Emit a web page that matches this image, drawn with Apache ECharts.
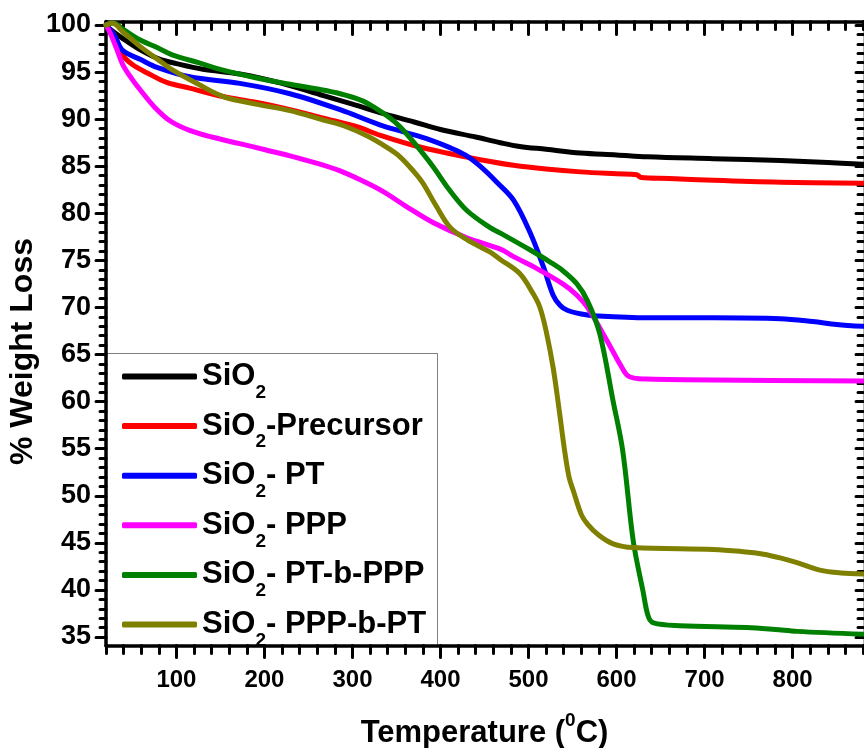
<!DOCTYPE html>
<html><head><meta charset="utf-8">
<script src="https://cdn.jsdelivr.net/npm/echarts@6/dist/echarts.min.js"></script>
<style>html,body{margin:0;padding:0;background:#fff}#c{width:864px;height:748px}</style>
</head><body><div id="c"></div>
<script>
// ---------------- data ----------------
const seriesNames = ['SiO2', 'SiO2-Precursor', 'SiO2- PT', 'SiO2- PPP', 'SiO2- PT-b-PPP', 'SiO2- PPP-b-PT'];
const seriesColors = ['#000000', '#ff0000', '#0000ff', '#ff00ff', '#008000', '#808000'];
const xTickValues = [100, 200, 300, 400, 500, 600, 700, 800];
const yTickValues = [35, 40, 45, 50, 55, 60, 65, 70, 75, 80, 85, 90, 95, 100];

// [temperature (°C), weight (%)]
const sio2 = [[20,100],[24,99.6],[40,98.5],[60,97.3],[80,96.4],[100,95.9],[130,95.3],[172,94.8],[220,93.8],[267,92.5],[300,91.6],[331,90.7],[370,89.7],[400,88.9],[440,88.1],[468,87.5],[490,87.1],[520,86.8],[559,86.4],[600,86.2],[635,86.0],[710,85.8],[786,85.6],[840,85.4],[880,85.2]];
const sio2Precursor = [[20,100],[30,98.8],[39,96.8],[50,95.8],[67,94.9],[89,93.9],[115,93.3],[153,92.4],[190,91.8],[229,91.0],[267,90.1],[305,89.2],[331,88.3],[370,87.2],[407,86.4],[445,85.7],[483,85.1],[520,84.7],[559,84.4],[600,84.2],[623,84.1],[628,83.8],[660,83.7],[710,83.5],[786,83.3],[880,83.2]];
const sio2PT = [[20,100],[30,98.8],[39,97.3],[60,96.3],[78,95.5],[115,94.5],[172,93.8],[229,92.7],[286,91.0],[331,89.4],[360,88.6],[388,87.8],[410,87.0],[428,86.2],[445,85.0],[464,83.3],[483,81.4],[502,77.9],[517,74.3],[528,71.3],[536,70.2],[544,69.7],[560,69.3],[578,69.1],[635,68.9],[710,68.9],[786,68.8],[823,68.5],[850,68.2],[880,68.0]];
const sio2PPP = [[20,100],[25,99.1],[32,97.5],[39,95.8],[50,94.2],[59,93.1],[75,91.3],[93,89.8],[115,88.8],[140,88.1],[172,87.4],[203,86.7],[229,86.1],[260,85.3],[286,84.5],[310,83.5],[335,82.3],[360,80.8],[392,79.0],[430,77.4],[468,76.2],[483,75.4],[510,74.1],[539,72.5],[555,71.3],[567,70.0],[589,66.5],[605,63.8],[612,62.8],[620,62.5],[635,62.4],[710,62.3],[880,62.2]];
const sio2PTbPPP = [[20,100],[28,100.2],[40,99.5],[59,98.4],[78,97.6],[96,96.8],[125,96.0],[153,95.2],[190,94.4],[229,93.7],[260,93.2],[286,92.7],[310,92.0],[324,91.3],[343,90.1],[354,89.2],[370,87.5],[392,84.9],[410,82.5],[430,80.3],[456,78.5],[468,77.9],[502,76.1],[525,74.8],[539,73.9],[555,72.5],[567,70.7],[581,67.2],[596,60.1],[607,54.8],[619,45.2],[630,39.9],[636,37.2],[642,36.5],[672,36.2],[748,36.0],[780,35.8],[805,35.6],[880,35.3]];
const sio2PPPbPT = [[20,100],[27,100.2],[40,99.2],[59,97.7],[78,96.4],[96,95.2],[125,93.7],[153,92.4],[190,91.6],[229,90.9],[267,89.9],[290,89.3],[317,88.2],[339,87.0],[354,86.0],[370,84.4],[380,83.2],[395,80.8],[411,78.5],[430,77.2],[456,75.9],[468,75.1],[490,73.6],[505,71.5],[513,70.0],[520,67.5],[528,63.6],[535,59.0],[541,54.8],[546,52.0],[551,50.5],[560,48.0],[567,47.0],[580,45.8],[596,44.9],[619,44.5],[710,44.3],[740,44.1],[767,43.8],[790,43.3],[805,42.9],[831,42.1],[855,41.8],[880,41.7]];
const seriesData = [sio2, sio2Precursor, sio2PT, sio2PPP, sio2PTbPPP, sio2PPPbPT];

// ---------------- chart ----------------
const FONT = '"Liberation Sans", Arial, sans-serif';
const X_MIN = 20, X_MAX = 880, Y_MIN = 34.1, Y_MAX = 100.37;
const xMinor = [];
for (let v = 20; v <= 880; v += 20) if (v % 100 !== 0) xMinor.push(v);
const yMinor = [];
for (let v = 35; v <= 100; v += 1) if (v % 5 !== 0) yMinor.push(v);

const tickStyle = { color: '#000', width: 3, cap: 'round' };
function xAx(pos, ticks, len, inside, withLabel, lineShow) {
  return {
    type: 'value', position: pos, min: X_MIN, max: X_MAX,
    splitLine: { show: false },
    axisLine: { show: lineShow, onZero: false, lineStyle: { color: '#000', width: 3.5 } },
    axisTick: { show: true, inside: inside, length: len, customValues: ticks, lineStyle: tickStyle },
    axisLabel: withLabel ? { show: true, customValues: xTickValues, margin: 23, color: '#000',
      fontSize: 24, fontWeight: 'bold', fontFamily: FONT } : { show: false }
  };
}
function yAx(pos, ticks, len, inside, withLabel, lineShow, lineStyle) {
  return {
    type: 'value', position: pos, min: Y_MIN, max: Y_MAX,
    splitLine: { show: false },
    axisLine: { show: lineShow, onZero: false, lineStyle: lineStyle || { color: '#000', width: 3.5 } },
    axisTick: { show: true, inside: inside, length: len, customValues: ticks, lineStyle: tickStyle },
    axisLabel: withLabel ? { show: true, customValues: yTickValues, margin: 15, color: '#000',
      fontSize: 27, fontWeight: 'bold', fontFamily: FONT } : { show: false }
  };
}

const xAxes = [
  xAx('bottom', xTickValues, 12, false, true, true),
  xAx('bottom', xMinor, 8, false, false, false),
  xAx('top', xTickValues, 13, true, false, true),
  xAx('top', xMinor, 8, true, false, false)
];
Object.assign(xAxes[0], {
  name: '{a|Temperature (}{s|0}{a|C)}', nameLocation: 'middle', nameGap: 72,
  nameTextStyle: { rich: {
    a: { fontSize: 31, lineHeight: 31, fontWeight: 'bold', color: '#000', fontFamily: FONT },
    s: { fontSize: 19, lineHeight: 19, fontWeight: 'bold', color: '#000', fontFamily: FONT, padding: [-12, 0, 12, 0] }
  } }
});
const yAxes = [
  yAx('left', yTickValues, 10, false, true, true),
  yAx('left', yMinor, 6, false, false, false),
  yAx('right', yTickValues, 7, true, false, true, { color: '#aaaaaa', width: 1, type: 'dotted' }),
  yAx('right', yMinor, 5, true, false, false)
];
Object.assign(yAxes[0], {
  name: '% Weight Loss', nameLocation: 'middle', nameGap: 67, nameMoveOverlap: false,
  nameTextStyle: { fontSize: 32, fontWeight: 'bold', color: '#000', fontFamily: FONT, padding: [0, 36, 0, 0] }
});

const chart = echarts.init(document.getElementById('c'), null, { renderer: 'canvas' });
chart.setOption({
  backgroundColor: '#fff',
  animation: false,
  color: seriesColors,
  grid: { left: 106, right: 1, top: 21.5, bottom: 102.5, containLabel: false, outerBoundsMode: 'none' },
  xAxis: xAxes,
  yAxis: yAxes,
  legend: {
    orient: 'vertical', left: 122, top: 361, padding: 0,
    itemWidth: 75, itemHeight: 6, itemGap: 8.6, icon: 'roundRect',
    selectedMode: false,
    data: seriesNames,
    formatter: function (n) { return '{a|SiO}{s|2}{a|' + n.slice(4) + '}'; },
    textStyle: { rich: {
      a: { fontSize: 31, lineHeight: 30, fontWeight: 'bold', color: '#000', fontFamily: FONT },
      s: { fontSize: 19, lineHeight: 19, fontWeight: 'bold', color: '#000', fontFamily: FONT, padding: [16, 0, -16, 0] }
    } }
  },
  graphic: [{
    type: 'rect', z: 0, silent: true,
    shape: { x: 106.5, y: 353.5, width: 331, height: 292 },
    style: { fill: 'none', stroke: '#7f7f7f', lineWidth: 1 }
  }],
  series: seriesData.map(function (d, i) {
    return {
      name: seriesNames[i], type: 'line', data: d, xAxisIndex: 0, yAxisIndex: 0,
      showSymbol: false, smooth: 0.35,
      lineStyle: { width: 5, color: seriesColors[i], cap: 'round', join: 'round' },
      itemStyle: { color: seriesColors[i] }
    };
  })
});
</script></body></html>
